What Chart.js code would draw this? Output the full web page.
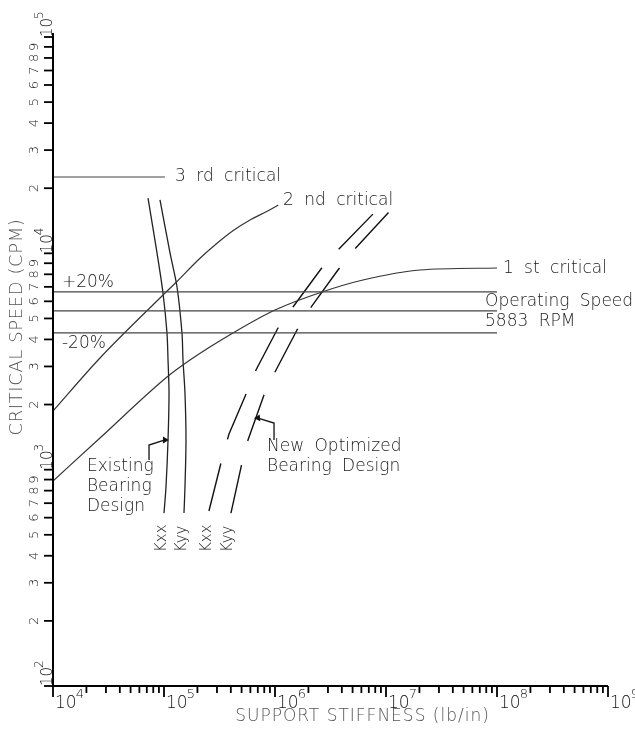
<!DOCTYPE html>
<html lang="en">
<head>
<meta charset="UTF-8" />
<title>critical speed map</title>
<script src="https://cdn.jsdelivr.net/npm/chart.js@4.4.1/dist/chart.umd.min.js"></script>
<style>
  body { margin: 0; background: #fff; }
</style>
</head>
<body>
<canvas id="myChart" width="635" height="732"></canvas>
<script>
// values: support stiffness (lb/in) vs critical speed (cpm)

const crit1X = [1e4, 2.65e4, 1.064e5, 1.715e5, 4.18e5, 1e6, 2.65e6, 6.2e6, 2.025e7, 1e8];
const crit1Y = [886, 1401, 2682, 3214, 4283, 5470, 6627, 7530, 8375, 8555];

const crit2X = [1e4, 2.65e4, 9.2e4, 1.301e5, 2.11e5, 2.985e5, 4.21e5, 5.955e5, 8.42e5, 1.071e6];
const crit2Y = [1867, 3282, 6217, 7394, 9484, 11100, 12750, 14260, 15610, 16730];

const crit3X = [1e4, 1.02e5];
const crit3Y = [22540, 22540];

// operating speed band, drawn from 10^4 to 10^8
const bandX = [1e4, 1e8];
const plus20 = 6630;
const operating = 5415;
const minus20 = 4285;

const exKxxX = [7.18e4, 8.65e4, 9.79e4, 1.064e5, 1.087e5, 1.11e5, 1.087e5, 1.042e5, 1.0e5];
const exKxxY = [18000, 10040, 6556, 4283, 3214, 2262, 1372, 831, 630];
const exKyyX = [9.2e4, 1.133e5, 1.31e5, 1.452e5, 1.483e5, 1.545e5, 1.578e5, 1.545e5, 1.514e5];
const exKyyY = [17650, 10040, 6990, 4283, 3214, 2262, 1372, 831, 630];

const newKxxX = [2.54e5, 3.33e5, 3.85e5, 5.59e5, 6.74e5, 1.064e6, 1.452e6, 2.594e6, 3.69e6, 7.8e6];
const newKxxY = [644, 1120, 1462, 2286, 2888, 4517, 5649, 8465, 10360, 15370];
const newKyyX = [4.01e5, 5.04e5, 5.71e5, 7.96e5, 1.0e6, 1.578e6, 2.025e6, 3.69e6, 5.04e6, 1.064e7];
const newKyyY = [630, 1073, 1372, 2214, 2828, 4421, 5472, 8375, 10250, 15520];

// leader arrows
const arrowExX = [7.33e4, 7.33e4, 1.02e5];
const arrowExY = [1108, 1300, 1372];
const arrowNewX = [9.8e5, 9.8e5, 7.03e5];
const arrowNewY = [1372, 1643, 1733];

// tick labels
const xDecades = [4, 5, 6, 7, 8, 9];
const yDecades = [2, 3, 4, 5];
const yMinor = [2, 3, 4, 5, 6, 7, 8, 9];

// text on the plot: [text, stiffness, speed]
const notes = [
  ['3 rd critical', 1.256e5, 22540],
  ['2 nd critical', 1.18e6, 17460],
  ['1 st critical', 1.13e8, 8465],
  ['Operating Speed', 7.8e7, 5957],
  ['5883 RPM', 7.8e7, 4815],
  ['+20%', 1.205e4, 7295],
  ['-20%', 1.205e4, 3811],
  ['Existing', 2.02e4, 1029],
  ['Bearing', 2.02e4, 831],
  ['Design', 2.02e4, 672],
  ['New Optimized', 8.47e5, 1273],
  ['Bearing Design', 8.47e5, 1029]
];
const kLabels = [['Kxx', 9.6e4], ['Kyy', 1.45e5], ['Kxx', 2.44e5], ['Kyy', 3.78e5]];
const kLabelY = 416;

const pts = (xs, ys) => xs.map((x, i) => ({ x: x, y: ys[i] }));
const flat = (v) => bandX.map(x => ({ x: x, y: v }));

const FONT = '"DejaVu Sans", sans-serif';

function solid(data, color, width, smooth) {
  const ds = { data: data, borderColor: color, borderWidth: width, pointRadius: 0,
               showLine: true, fill: false, tension: 0.3 };
  if (smooth) ds.cubicInterpolationMode = 'monotone';
  return ds;
}
function dashed(data) {
  return { data: data, borderColor: '#111', borderWidth: 1.4, pointRadius: 0,
           showLine: true, fill: false, tension: 0, borderDash: [49, 25] };
}
function arrow(data, rot) {
  return { data: data, borderColor: '#111', backgroundColor: '#111', borderWidth: 1.3,
           showLine: true, fill: false, tension: 0, pointStyle: 'triangle',
           pointRadius: [0, 0, 4], pointBorderWidth: 0, rotation: rot };
}

const paperAxes = {
  id: 'paperAxes',
  afterDraw(chart) {
    const ctx = chart.ctx;
    const a = chart.chartArea;
    const xs = chart.scales.x, ys = chart.scales.y;
    ctx.save();
    ctx.strokeStyle = '#000';
    ctx.fillStyle = '#111';
    ctx.lineWidth = 2;
    // axis lines
    ctx.beginPath();
    ctx.moveTo(a.left, a.top - 4);
    ctx.lineTo(a.left, a.bottom);
    ctx.lineTo(a.right, a.bottom);
    ctx.stroke();

    // y ticks
    ctx.lineWidth = 1.8;
    yDecades.forEach(d => {
      const top = d === 5 ? 1 : 9;
      for (let m = 1; m <= top; m++) {
        const py = ys.getPixelForValue(m * Math.pow(10, d));
        ctx.beginPath();
        ctx.moveTo(a.left - 9, py);
        ctx.lineTo(a.left, py);
        ctx.stroke();
      }
    });
    // x ticks
    xDecades.forEach(d => {
      const top = d === 9 ? 1 : 9;
      for (let m = 1; m <= top; m++) {
        const px = xs.getPixelForValue(m * Math.pow(10, d));
        ctx.beginPath();
        ctx.moveTo(px, a.bottom);
        ctx.lineTo(px, a.bottom + (m === 1 ? 11 : 7));
        ctx.stroke();
      }
    });

    // y minor digits, rotated
    ctx.font = '300 13px ' + FONT;
    ctx.textAlign = 'center';
    ctx.textBaseline = 'middle';
    yDecades.slice(0, 3).forEach(d => {
      yMinor.forEach(m => {
        const py = ys.getPixelForValue(m * Math.pow(10, d));
        ctx.save();
        ctx.translate(a.left - 18, py);
        ctx.rotate(-Math.PI / 2);
        ctx.fillText(String(m), 0, 0);
        ctx.restore();
      });
    });
    // y decade labels, rotated
    ctx.textAlign = 'left';
    ctx.textBaseline = 'alphabetic';
    yDecades.forEach(d => {
      const py = ys.getPixelForValue(Math.pow(10, d));
      ctx.save();
      ctx.translate(a.left - 1, py);
      ctx.rotate(-Math.PI / 2);
      ctx.font = '300 15px ' + FONT;
      ctx.fillText('10', 0, 0);
      const w = ctx.measureText('10').width;
      ctx.font = '300 12px ' + FONT;
      ctx.fillText(String(d), w - 1, -9);
      ctx.restore();
    });
    // x decade labels
    xDecades.forEach(d => {
      const px = xs.getPixelForValue(Math.pow(10, d));
      ctx.font = '300 17px ' + FONT;
      ctx.fillText('10', px + 2, a.bottom + 22);
      const w = ctx.measureText('10').width;
      ctx.font = '300 13px ' + FONT;
      ctx.fillText(String(d), px + 1 + w, a.bottom + 12);
    });

    // notes on the plot
    ctx.fillStyle = '#1a1a1a';
    ctx.font = '300 17px ' + FONT;
    ctx.textBaseline = 'middle';
    ctx.textAlign = 'left';
    ctx.wordSpacing = '5px';
    notes.forEach(n => {
      ctx.fillText(n[0], xs.getPixelForValue(n[1]), ys.getPixelForValue(n[2]));
    });
    ctx.wordSpacing = '0px';
    ctx.font = '300 15px ' + FONT;
    kLabels.forEach(k => {
      ctx.save();
      ctx.translate(xs.getPixelForValue(k[1]), ys.getPixelForValue(kLabelY));
      ctx.rotate(-Math.PI / 2);
      ctx.fillText(k[0], 0, 0);
      ctx.restore();
    });

    // axis titles
    ctx.fillStyle = '#555';
    ctx.textAlign = 'center';
    ctx.letterSpacing = '0.6px';
    ctx.font = '300 18px ' + FONT;
    ctx.save();
    ctx.translate(17, a.top + 290);
    ctx.rotate(-Math.PI / 2);
    ctx.fillText('CRITICAL SPEED (CPM)', 0, 0);
    ctx.restore();
    ctx.letterSpacing = '1px';
    ctx.font = '300 17px ' + FONT;
    ctx.fillText('SUPPORT STIFFNESS (lb/in)', (a.left + a.right) / 2 + 32, a.bottom + 31);
    ctx.letterSpacing = '0px';
    ctx.restore();
  }
};

const ctx = document.getElementById('myChart').getContext('2d');
const myChart = new Chart(ctx, {
  type: 'scatter',
  data: {
    datasets: [
      solid(flat(plus20), '#444', 1.2),
      solid(flat(operating), '#444', 1.2),
      solid(flat(minus20), '#444', 1.2),
      solid(pts(crit3X, crit3Y), '#444', 1.2),
      solid(pts(crit2X, crit2Y), '#333', 1.2, true),
      solid(pts(crit1X, crit1Y), '#333', 1.2, true),
      solid(pts(exKxxX, exKxxY), '#222', 1.3),
      solid(pts(exKyyX, exKyyY), '#222', 1.3),
      dashed(pts(newKxxX, newKxxY)),
      dashed(pts(newKyyX, newKyyY)),
      arrow(pts(arrowExX, arrowExY), 90),
      arrow(pts(arrowNewX, arrowNewY), 265)
    ]
  },
  options: {
    responsive: false,
    animation: false,
    layout: { padding: { left: 53, right: 27, top: 37, bottom: 46 } },
    plugins: { legend: { display: false }, tooltip: { enabled: false } },
    scales: {
      x: { type: 'logarithmic', min: 1e4, max: 1e9, display: false },
      y: { type: 'logarithmic', min: 1e2, max: 1e5, display: false }
    }
  },
  plugins: [paperAxes]
});
</script>
</body>
</html>
